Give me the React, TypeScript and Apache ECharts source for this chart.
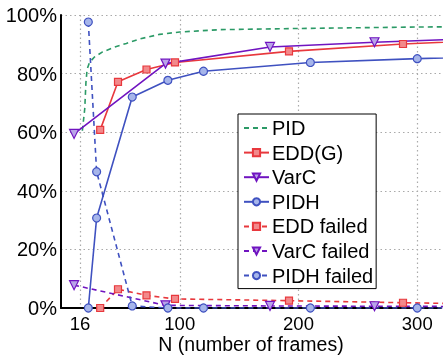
import React, { useEffect, useRef } from "react";
import * as echarts from "echarts";

const xTicks = [16, 100, 200, 300];

const pid = [[18, 60.5], [20, 68], [21, 77], [22, 81.5], [24, 83.8], [28, 85.6], [35, 87.4], [45, 89], [55, 90.3], [66, 91.8], [83, 93.4], [100, 94.2], [134, 95], [200, 95.4], [300, 95.9], [384, 96.1]];
const eddG = [[33, 60.8], [48, 77.2], [72, 81.4], [96, 83.8], [192, 87.6], [288, 90.1], [384, 91.8]];
const varC = [[11, 59.4], [88, 83.4], [176, 89.1], [264, 90.7], [352, 92.0]];
const pidh = [[23, 0], [30, 30.7], [60, 72], [90, 77.7], [120, 80.8], [210, 83.8], [300, 85.1], [390, 86.0]];
const eddFailed = [[33, 0], [48, 6.4], [72, 4.3], [96, 3.1], [192, 2.5], [288, 1.8], [384, 1.2]];
const varCFailed = [[11, 7.8], [88, 0.9], [176, 0.7], [264, 0.6], [352, 0.5]];
const pidhFailed = [[23, 97.6], [30, 46.5], [60, 0.7], [90, 0], [120, 0], [210, 0], [300, 0], [390, 0]];

const GREEN = "#2b9a66";
const RED = "#e8383d";
const RED_FILL = "#f2898b";
const PURPLE = "#7014c0";
const PURPLE_FILL = "#b9a4e8";
const BLUE = "#3f51c0";
const BLUE_FILL = "#a6b5ea";
const FONT = "'Liberation Sans', Arial, sans-serif";
const TRI = "path://M0,0 L10,0 L5,9 Z";

function mk(name: string, data: number[][], color: string, fill: string, symbol: string, size: number, dashed: boolean) {
  return {
    name,
    type: "line",
    data,
    symbol,
    symbolSize: size,
    showSymbol: symbol !== "none",
    clip: true,
    lineStyle: { color, width: 1.6, type: dashed ? [5, 4] : "solid" },
    itemStyle: { color: fill, borderColor: color, borderWidth: 1.2 },
    emphasis: { disabled: true },
  };
}

export default function App() {
  const ref = useRef<HTMLDivElement>(null);
  useEffect(() => {
    const chart = echarts.init(ref.current!, null, { renderer: "svg" });
    chart.setOption({
      animation: false,
      textStyle: { fontFamily: FONT },
      grid: { left: 61, right: 2, top: 15, bottom: 48, containLabel: false, outerBoundsMode: "none" },
      xAxis: {
        type: "value",
        min: 0,
        max: 320,
        name: "N (number of frames)",
        nameLocation: "middle",
        nameGap: 28.3,
        nameMoveOverlap: false,
        nameTextStyle: { fontSize: 19.5, color: "#000", fontFamily: FONT, lineHeight: 16 },
        axisLine: { show: true, lineStyle: { color: "#000", width: 2 } },
        axisTick: { show: false, customValues: xTicks },
        axisLabel: { customValues: xTicks, fontSize: 18.5, lineHeight: 18, color: "#000", margin: 6.3, fontFamily: FONT },
        splitLine: { show: true, lineStyle: { color: "#aaa", width: 1.2, type: [1.5, 3] } },
      },
      yAxis: {
        type: "value",
        min: 0,
        max: 100,
        interval: 20,
        axisLine: { show: true, lineStyle: { color: "#000", width: 2 } },
        axisTick: { show: false },
        axisLabel: { formatter: "{value}%", fontSize: 20, color: "#000", margin: 4, fontFamily: FONT },
        splitLine: { show: true, lineStyle: { color: "#aaa", width: 1.2, type: [1.5, 3] } },
      },
      legend: {
        orient: "vertical",
        left: 238,
        top: 114,
        padding: [4, 3, 3, 5],
        itemGap: 4.6,
        itemWidth: 25,
        itemHeight: 9,
        backgroundColor: "#fff",
        borderColor: "#000",
        borderWidth: 1,
        textStyle: { fontSize: 20, color: "#000", fontFamily: FONT, lineHeight: 20, padding: [0, 0, 0, -2] },
        data: [
          { name: "PID", itemStyle: { color: "rgba(0,0,0,0)", borderColor: "rgba(0,0,0,0)", opacity: 0 } },
          "EDD(G)", "VarC", "PIDH", "EDD failed", "VarC failed", "PIDH failed",
        ],
      },
      series: [
        mk("PID", pid, GREEN, GREEN, "none", 0, true),
        mk("EDD(G)", eddG, RED, RED_FILL, "rect", 7, false),
        mk("VarC", varC, PURPLE, PURPLE_FILL, TRI, 9, false),
        mk("PIDH", pidh, BLUE, BLUE_FILL, "circle", 8, false),
        mk("EDD failed", eddFailed, RED, RED_FILL, "rect", 7, true),
        mk("VarC failed", varCFailed, PURPLE, PURPLE_FILL, TRI, 9, true),
        mk("PIDH failed", pidhFailed, BLUE, BLUE_FILL, "circle", 8, true),
      ],
    });
    return () => chart.dispose();
  }, []);
  return <div ref={ref} style={{ position: "fixed", left: 0, top: 0, width: 443, height: 356 }} />;
}
